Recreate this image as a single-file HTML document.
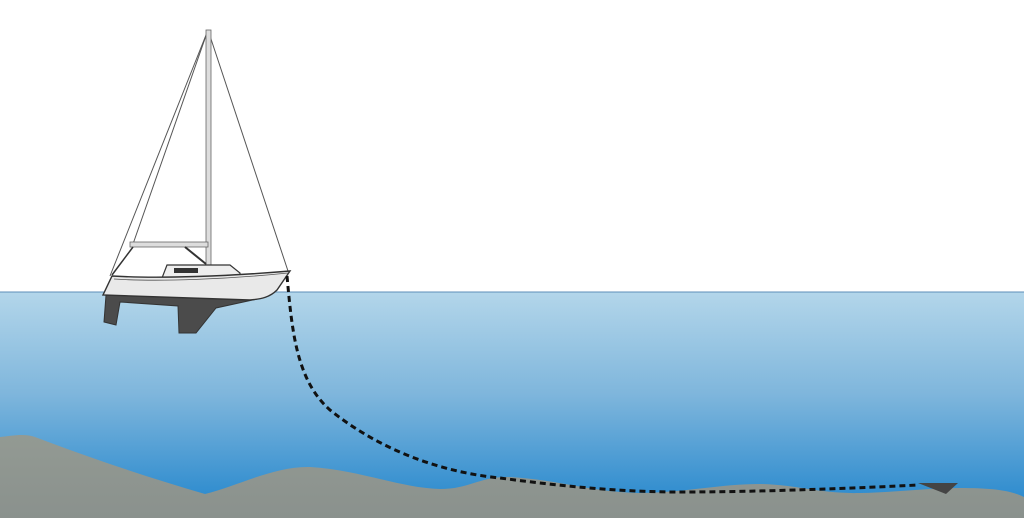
<!DOCTYPE html>
<html><head><style>html,body{margin:0;padding:0;background:#fff}svg{display:block}</style></head>
<body>
<svg width="1024" height="518" viewBox="0 0 1024 518" xmlns="http://www.w3.org/2000/svg">
<defs>
<linearGradient id="w" x1="0" y1="0" x2="0" y2="1">
<stop offset="0" stop-color="#b3d6ea"/>
<stop offset="0.45" stop-color="#7fb6dc"/>
<stop offset="1" stop-color="#1f84cc"/>
</linearGradient>
<linearGradient id="g" x1="0" y1="0" x2="0" y2="1">
<stop offset="0" stop-color="#939a93"/>
<stop offset="1" stop-color="#8a918d"/>
</linearGradient>
</defs>
<rect x="0" y="292" width="1024" height="226" fill="url(#w)"/>
<line x1="0" y1="292" x2="1024" y2="292" stroke="#5d8fb8" stroke-width="1"/>
<path d="M0,437 C10,436 25,433 35,437 C90,458 150,478 205,494 C240,485 275,466 310,467 C360,470 400,488 440,489 C470,489 480,476 510,477 C560,480 590,492 640,493 C690,492 720,484 760,484 C800,485 820,494 860,493 C900,492 930,488 960,488 C990,488 1010,490 1024,497 L1024,518 L0,518 Z" fill="url(#g)"/>
<!-- rigging -->
<line x1="208" y1="30" x2="110" y2="276" stroke="#555" stroke-width="1"/>
<line x1="208" y1="30" x2="133" y2="244" stroke="#555" stroke-width="1"/>
<line x1="208" y1="30" x2="288" y2="271" stroke="#555" stroke-width="1"/>
<rect x="206" y="30" width="5" height="240" fill="#ddd" stroke="#666" stroke-width="0.8"/>
<rect x="130" y="242" width="78" height="5" fill="#ddd" stroke="#666" stroke-width="0.8"/>
<line x1="185" y1="247" x2="206" y2="264" stroke="#333" stroke-width="2"/>
<line x1="133" y1="247" x2="112" y2="275" stroke="#333" stroke-width="1.5"/>
<!-- keel -->
<path d="M106,295 L104,322 L116,325 L120,302 L178,306 L179,333 L196,333 L216,308 L262,298 Z" fill="#4b4b4b" stroke="#333" stroke-width="1"/>
<!-- cabin -->
<path d="M162,278 L167,265 L230,265 L240,273 L240,280 Z" fill="#eee" stroke="#333" stroke-width="1.2"/>
<rect x="174" y="268" width="24" height="5" fill="#333"/>
<!-- hull -->
<path d="M112,276 C160,279 230,276 290,271 L277,290 C270,297 262,299 250,300 L103,295 Z" fill="#e9e9e9" stroke="#333" stroke-width="1.4"/>
<path d="M114,279 C160,282 230,279 288,273" fill="none" stroke="#555" stroke-width="0.8"/>
<!-- rode -->
<path d="M287,276 C292,330 296,380 330,410 C380,450 440,472 500,478 C560,486 620,492 680,492 C760,492 860,488 918,485" fill="none" stroke="#111" stroke-width="3" stroke-dasharray="6,4"/>
<path d="M918,483 L958,483 L946,494 Z" fill="#444"/>
</svg>
</body></html>
